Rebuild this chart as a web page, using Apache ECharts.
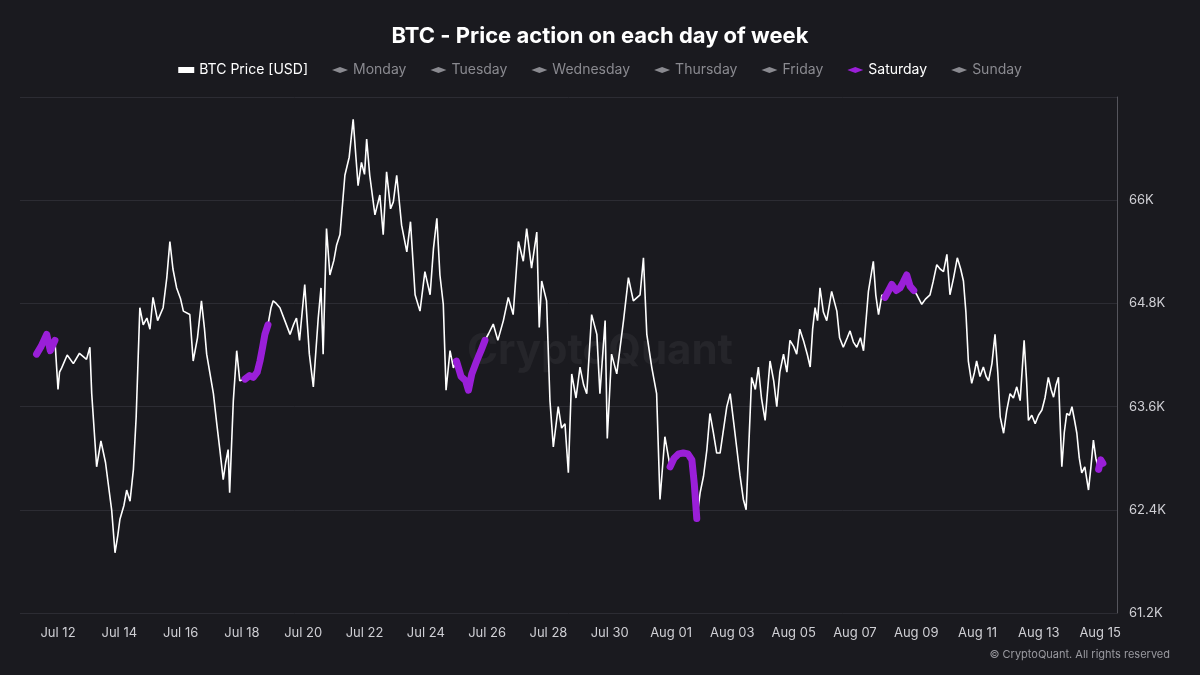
<!DOCTYPE html>
<html><head><meta charset="utf-8">
<script src="https://cdn.jsdelivr.net/npm/echarts@6/dist/echarts.min.js"></script>
<style>html,body{margin:0;padding:0;background:#1a1a1f;}#c{width:1200px;height:675px;}</style>
</head><body><div id="c"></div>
<script>
// day offsets from Jul 12 (00:00)
const days = [-0.7,-0.55,-0.37,-0.25,-0.1,0.0,0.05,0.12,0.3,0.5,0.7,0.93,1.04,1.1,1.26,1.4,1.55,1.64,1.75,1.86,1.95,2.02,2.15,2.24,2.35,2.46,2.55,2.67,2.78,2.9,3.0,3.1,3.25,3.43,3.55,3.65,3.75,3.87,4.0,4.09,4.3,4.41,4.55,4.68,4.78,4.85,4.95,5.07,5.18,5.28,5.39,5.47,5.55,5.6,5.72,5.83,5.93,6.1,6.25,6.37,6.5,6.59,6.68,6.75,6.85,6.95,7.02,7.12,7.24,7.4,7.57,7.68,7.78,7.88,8.05,8.2,8.33,8.49,8.58,8.65,8.76,8.87,9.0,9.09,9.2,9.36,9.5,9.63,9.72,9.79,9.9,10.0,10.07,10.17,10.34,10.5,
10.61,10.72,10.85,10.94,11.05,11.21,11.38,11.5,11.65,11.81,11.97,12.14,12.25,12.36,12.46,12.57,12.66,12.79,12.9,13.0,13.15,13.3,13.39,13.5,13.66,13.8,13.93,14.05,14.2,14.35,14.53,14.69,14.85,15.02,15.18,15.29,15.45,15.62,15.7,15.78,15.94,16.05,16.16,16.32,16.43,16.54,16.65,16.76,16.9,17.03,17.15,17.25,17.41,17.58,17.68,17.85,17.92,18.06,18.23,18.45,18.61,18.77,18.99,19.1,19.21,19.37,19.53,19.64,19.8,19.97,20.1,20.25,20.4,20.55,20.68,20.76,20.84,20.95,21.06,21.17,21.27,21.38,21.49,
21.6,21.82,21.93,22.05,22.14,22.25,22.36,22.45,22.63,22.75,22.85,22.95,23.07,23.23,23.35,23.45,23.55,23.67,23.78,23.88,24.0,24.1,24.2,24.32,24.45,24.54,24.62,24.7,24.78,24.86,24.97,25.08,25.24,25.41,25.5,25.62,25.75,25.84,25.95,26.06,26.18,26.28,26.44,26.6,26.68,26.77,26.88,26.98,27.1,27.2,27.35,27.47,27.58,27.69,27.8,27.92,28.02,28.18,28.3,28.45,28.55,28.67,28.78,28.89,29.0,29.1,29.22,29.34,29.45,29.54,29.62,29.7,29.81,29.9,29.97,30.08,30.19,30.28,30.36,30.47,30.57,30.66,30.74,30.85,30.95,31.06,31.17,31.28,31.39,31.52,31.6,31.66,31.77,31.88,31.99,32.1,32.2,32.31,32.4,32.48,32.56,32.64,32.75,32.83,32.91,33.0,33.08,33.16,33.24,33.32,33.4,33.5,33.62,33.7,33.78,33.86,33.95,34.02,34.09];
// BTC price in thousands USD
const prices = [64.21,64.3,64.44,64.25,64.37,63.8,64.0,64.05,64.2,64.1,64.22,64.15,64.29,63.75,62.9,63.2,62.95,62.7,62.4,61.9,62.1,62.29,62.45,62.63,62.5,62.87,63.48,64.75,64.55,64.63,64.5,64.87,64.6,64.75,65.1,65.52,65.2,64.98,64.85,64.71,64.67,64.13,64.4,64.83,64.5,64.21,64.0,63.75,63.4,63.1,62.75,62.95,63.1,62.6,63.67,64.25,63.9,63.92,63.96,63.94,64.0,64.13,64.3,64.44,64.55,64.75,64.83,64.8,64.75,64.6,64.44,64.55,64.63,64.37,65.02,64.21,63.83,64.63,64.98,64.21,65.67,65.13,65.3,65.48,65.6,66.29,66.5,66.94,66.5,66.17,66.44,66.3,66.71,66.29,65.83,66.06,
65.6,66.33,65.9,65.98,66.29,65.71,65.4,65.75,64.9,64.71,65.17,64.9,65.44,65.79,65.13,64.79,63.79,64.25,64.05,64.13,63.95,63.9,63.79,63.98,64.13,64.25,64.37,64.45,64.56,64.37,64.6,64.87,64.67,65.52,65.29,65.67,65.21,65.63,64.52,65.06,64.83,63.67,63.13,63.6,63.35,63.4,62.83,63.98,63.7,64.06,63.85,63.75,64.67,64.44,63.75,64.6,63.23,64.21,63.98,64.6,65.1,64.83,64.9,65.33,64.44,64.06,63.75,62.52,63.25,62.9,63.0,63.05,63.06,63.05,62.98,62.7,62.3,62.6,62.79,63.1,63.52,63.3,63.06,
63.06,63.6,63.75,63.4,63.13,62.8,62.52,62.4,63.94,63.8,64.06,63.7,63.44,64.13,63.9,63.6,64.0,64.21,64.0,64.37,64.3,64.21,64.5,64.37,64.2,64.06,64.5,64.75,64.6,64.98,64.7,64.6,64.94,64.71,64.4,64.29,64.4,64.48,64.35,64.29,64.4,64.25,64.94,65.29,64.9,64.67,64.9,64.87,64.95,65.02,64.95,64.98,65.05,65.13,65.0,64.95,64.9,64.79,64.85,64.9,65.05,65.25,65.2,65.17,65.37,64.9,65.1,65.33,65.2,65.06,64.7,64.13,63.87,64.0,64.13,63.95,64.06,63.95,63.9,64.1,64.44,64.0,63.48,63.29,63.55,63.75,63.7,63.83,63.67,64.37,63.9,63.44,63.5,63.4,63.5,63.56,63.7,63.94,63.8,63.71,63.85,63.94,62.9,63.3,63.52,63.5,63.6,63.45,63.29,63.0,62.83,62.9,62.63,62.9,63.21,63.0,62.87,62.98,62.94];
const weekdayNames = ['Sunday','Monday','Tuesday','Wednesday','Thursday','Friday','Saturday'];
const legendOrder = ['Monday','Tuesday','Wednesday','Thursday','Friday','Saturday','Sunday'];
const tickDays = [0,2,4,6,8,10,12,14,16,18,20,22,24,26,28,30,32,34];
const monthNames = ['Jan','Feb','Mar','Apr','May','Jun','Jul','Aug','Sep','Oct','Nov','Dec'];

const base = Date.UTC(2024,6,12);
function label(d){const t=new Date(base+d*86400000);return monthNames[t.getUTCMonth()]+' '+String(t.getUTCDate()).padStart(2,'0');}
function dayIdx(d){return ((Math.floor(d+0.05)%7)+7)%7;}

const mainData = days.map((d,i)=>[d,prices[i]]);
const daySeries = legendOrder.map(name=>{
  const w = weekdayNames.indexOf(name);
  const data = days.map((d,i)=> dayIdx(d)===w ? [d,prices[i]] : [d,null]);
  return {name, type:'line', data, connectNulls:false, showSymbol:false, symbol:'circle',
    lineStyle:{width:7,color:'#9a1fd8',cap:'round',join:'round'}, itemStyle:{color:'#9a1fd8'}, z:5, silent:true};
});
const selected = {}; legendOrder.forEach(n=>selected[n]=(n==='Saturday'));
selected['BTC Price [USD]']=true;

const chart = echarts.init(document.getElementById('c'),null,{renderer:'canvas'});
chart.setOption({
  backgroundColor:'#1a1a1f',
  animation:false,
  title:{text:'BTC - Price action on each day of week',left:'center',top:20,
    textStyle:{color:'#ffffff',fontSize:22,fontWeight:'bold',fontFamily:'Inter, Roboto, sans-serif'}},
  legend:{top:58,left:'center',itemGap:24,selected,inactiveColor:'#8a8a90',
    textStyle:{color:'#ffffff',fontSize:14,fontFamily:'Inter, Roboto, sans-serif'},
    data:[{name:'BTC Price [USD]',icon:'rect',itemStyle:{color:'#fff'}},
      ...legendOrder.map(n=>({name:n,icon:'diamond',lineStyle:{opacity:0,width:0},itemStyle:{color:n==='Saturday'?'#9a1fd8':'#8a8a90'}}))],
    itemWidth:16,itemHeight:6},
  graphic:[
    {type:'text',left:'center',top:330,style:{text:'CryptoQuant',fill:'rgba(255,255,255,0.05)',font:'bold 42px Inter, Roboto, sans-serif'},z:0},
    {type:'text',right:30,top:649,style:{text:'© CryptoQuant. All rights reserved',fill:'#9a9aa0',font:'11px Inter, Roboto, sans-serif'}}
  ],
  grid:{left:20,right:83,top:97,bottom:62},
  xAxis:{type:'value',min:-1.24,max:34.55,
    axisLine:{show:false},axisTick:{show:false},splitLine:{show:false},
    axisLabel:{customValues:tickDays,formatter:v=>label(v),color:'#cfcfd4',fontSize:13,margin:14,fontFamily:'Inter, Roboto, sans-serif'}},
  yAxis:{type:'value',position:'right',min:61.2,max:67.2,interval:1.2,
    axisLine:{show:true,onZero:false,lineStyle:{color:'#55555c'}},axisTick:{show:false},
    splitLine:{lineStyle:{color:'#2c2c33'}},
    axisLabel:{showMaxLabel:false,color:'#cfcfd4',fontSize:13,margin:12,fontFamily:'Inter, Roboto, sans-serif',formatter:v=>v.toFixed(1).replace(/\.0$/,'')+'K'}},
  series:[
    {name:'BTC Price [USD]',type:'line',data:mainData,showSymbol:false,lineStyle:{width:1.6,color:'#ffffff'},itemStyle:{color:'#ffffff'},z:3,silent:true},
    ...daySeries
  ]
});
</script></body></html>
